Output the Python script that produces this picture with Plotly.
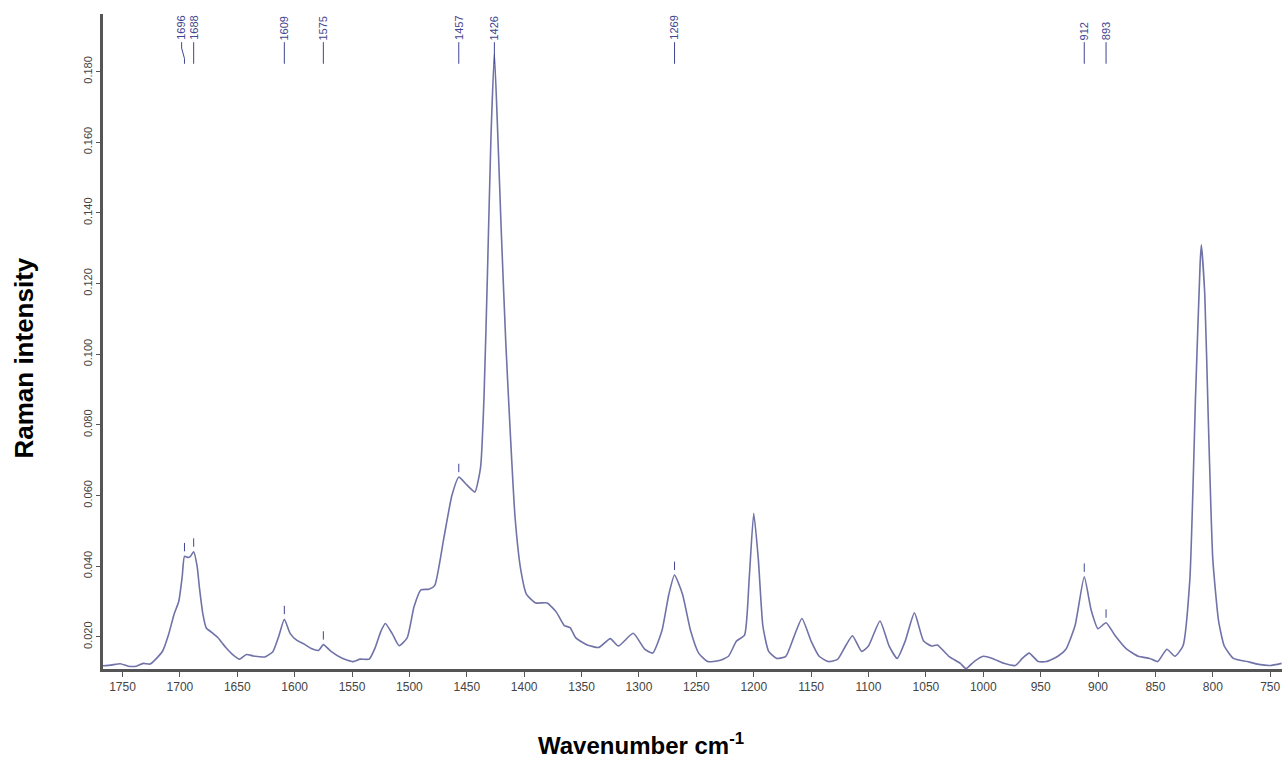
import plotly.graph_objects as go

# Raman spectrum: wavenumber (cm-1) and intensity
wavenumber = [
    1767, 1760, 1752, 1745, 1738, 1732, 1726, 1721, 1715, 1710, 1705, 1701, 1698,
    1696, 1693, 1691, 1688, 1685, 1683, 1680, 1677, 1672, 1667, 1660, 1654, 1648,
    1642, 1636, 1626, 1619, 1614, 1609, 1604, 1598, 1592, 1585, 1579, 1575, 1568,
    1559, 1549, 1543, 1535, 1530, 1525, 1521, 1515, 1509, 1502, 1496, 1490, 1483,
    1478, 1470, 1463, 1457, 1450, 1443, 1438, 1435, 1432, 1429, 1426, 1423, 1420,
    1416, 1412, 1408, 1403, 1398, 1390, 1380, 1372, 1365, 1360, 1355, 1345, 1335,
    1325, 1318, 1305, 1295, 1288, 1280, 1274, 1269, 1262, 1255, 1248, 1240, 1230,
    1222, 1215, 1208, 1204, 1200, 1196, 1192, 1187, 1180, 1172, 1165, 1158, 1150,
    1143, 1135, 1127, 1120, 1114, 1106, 1100, 1090, 1082, 1075, 1068, 1060, 1052,
    1045, 1040, 1030, 1020, 1015, 1008, 1000, 992, 982, 972, 966, 960, 952, 945,
    935, 928, 920, 912, 906, 900, 893, 885, 875, 865, 855, 848, 840, 833, 826,
    820, 815, 811, 810, 807, 804, 800, 795, 790, 782, 770, 760, 750, 740,
]
intensity = [
    0.0118, 0.0120, 0.0124, 0.0117, 0.0117, 0.0125, 0.0123, 0.0137, 0.0160, 0.0205, 0.0265, 0.0300, 0.0370,
    0.0428, 0.0425, 0.0427, 0.0441, 0.0400, 0.0340, 0.0265, 0.0225, 0.0212, 0.0198, 0.0170, 0.0150, 0.0137,
    0.0150, 0.0146, 0.0143, 0.0158, 0.0200, 0.0250, 0.0210, 0.0190, 0.0180, 0.0166, 0.0162, 0.0178, 0.0158,
    0.0140, 0.0130, 0.0137, 0.0137, 0.0168, 0.0215, 0.0238, 0.0209, 0.0175, 0.0197, 0.0285, 0.0333, 0.0335,
    0.0345, 0.0480, 0.0600, 0.0652, 0.0630, 0.0610, 0.0680, 0.0880, 0.1230, 0.1610, 0.1850, 0.1620, 0.1350,
    0.1030, 0.0770, 0.0540, 0.0390, 0.0320, 0.0296, 0.0296, 0.0270, 0.0232, 0.0226, 0.0197, 0.0177, 0.0170,
    0.0195, 0.0174, 0.0210, 0.0165, 0.0154, 0.0217, 0.0320, 0.0375, 0.0320, 0.0217, 0.0154, 0.0130, 0.0133,
    0.0145, 0.0188, 0.0205, 0.0362, 0.0550, 0.0420, 0.0230, 0.0159, 0.0139, 0.0145, 0.0200, 0.0252, 0.0188,
    0.0145, 0.0130, 0.0136, 0.0174, 0.0203, 0.0159, 0.0174, 0.0245, 0.0174, 0.0139, 0.0188, 0.0268, 0.0188,
    0.0174, 0.0177, 0.0145, 0.0125, 0.0110, 0.0130, 0.0145, 0.0139, 0.0125, 0.0119, 0.0139, 0.0154, 0.0130, 0.0130,
    0.0145, 0.0165, 0.0232, 0.0370, 0.0276, 0.0223, 0.0240, 0.0203, 0.0165, 0.0145, 0.0139, 0.0130, 0.0165, 0.0145, 0.0174,
    0.0362, 0.0884, 0.1260, 0.1310, 0.1170, 0.0826, 0.0420, 0.0246, 0.0174, 0.0139, 0.0130, 0.0122, 0.0119, 0.0125,
]

# Annotated peak positions (cm-1)
peak_labels = [1696, 1688, 1609, 1575, 1457, 1426, 1269, 912, 893]
# Peaks that also get a small apex tick
apex_ticks = [1696, 1688, 1609, 1575, 1457, 1269, 912, 893]

x_ticks = list(range(750, 1751, 50))
y_ticks = [0.02, 0.04, 0.06, 0.08, 0.10, 0.12, 0.14, 0.16, 0.18]
y_tick_text = ["0.020", "0.040", "0.060", "0.080", "0.100", "0.120", "0.140", "0.160", "0.180"]

LINE = "#7072a8"
LABEL = "#3f4590"
AXIS = "#555555"
FONT = "Liberation Sans, Arial, sans-serif"

fig = go.Figure()
fig.add_trace(go.Scatter(
    x=wavenumber, y=intensity, mode="lines",
    line=dict(color=LINE, width=1.6, shape="spline", smoothing=0.5),
    hoverinfo="x+y", showlegend=False,
))

# small ticks just above the marked apexes
lookup = dict(zip(wavenumber, intensity))
fig.add_trace(go.Scatter(
    x=apex_ticks, y=[lookup[w] + 0.0026 for w in apex_ticks], mode="markers",
    marker=dict(symbol="line-ns", size=6, line=dict(color=LABEL, width=1)),
    hoverinfo="skip", showlegend=False,
))

# vertical peak labels with leader lines at the top of the plot
label_bottom = 0.957
leader_bottom = 0.924
shapes = []
annotations = []
for w in peak_labels:
    xt = w + 2.5 if w == 1696 else w
    annotations.append(dict(
        x=xt, y=label_bottom, xref="x", yref="paper", text=str(w), textangle=-90,
        showarrow=False, xanchor="center", yanchor="bottom",
        font=dict(family=FONT, size=11, color=LABEL),
    ))
    if xt != w:
        shapes.append(dict(type="line", xref="x", yref="paper", x0=xt, x1=xt,
                           y0=label_bottom, y1=0.948, line=dict(color=LABEL, width=1)))
        shapes.append(dict(type="line", xref="x", yref="paper", x0=xt, x1=w,
                           y0=0.948, y1=0.932, line=dict(color=LABEL, width=1)))
        shapes.append(dict(type="line", xref="x", yref="paper", x0=w, x1=w,
                           y0=0.932, y1=leader_bottom, line=dict(color=LABEL, width=1)))
    else:
        shapes.append(dict(type="line", xref="x", yref="paper", x0=w, x1=w,
                           y0=label_bottom, y1=leader_bottom, line=dict(color=LABEL, width=1)))

# axis titles
annotations.append(dict(
    x=-0.067, y=0.474, xref="paper", yref="paper", text="<b>Raman intensity</b>",
    textangle=-90, showarrow=False, xanchor="center", yanchor="middle",
    font=dict(family=FONT, size=26, color="black"),
))
annotations.append(dict(
    x=0.456, y=-0.115, xref="paper", yref="paper",
    text="<b>Wavenumber cm<sup>-1</sup></b>",
    showarrow=False, xanchor="center", yanchor="middle",
    font=dict(family=FONT, size=24, color="black"),
))

fig.update_layout(
    width=1282, height=767,
    margin=dict(l=103, r=0, t=14, b=98),
    paper_bgcolor="white", plot_bgcolor="white",
    shapes=shapes, annotations=annotations,
    xaxis=dict(
        range=[1767, 739.7], tickvals=x_ticks, ticktext=[str(v) for v in x_ticks],
        showgrid=False, zeroline=False, showline=True, linecolor=AXIS, linewidth=3,
        ticks="outside", ticklen=5, tickwidth=1, tickcolor=AXIS,
        tickfont=dict(family=FONT, size=12, color="#444444"),
    ),
    yaxis=dict(
        range=[0.0109, 0.1963], tickvals=y_ticks, ticktext=y_tick_text, tickangle=-90,
        showgrid=False, zeroline=False, showline=True, linecolor=AXIS, linewidth=3,
        ticks="outside", ticklen=4, tickwidth=1, tickcolor=AXIS,
        tickfont=dict(family=FONT, size=11, color="#444444"),
    ),
)

fig.write_html("out.html")
